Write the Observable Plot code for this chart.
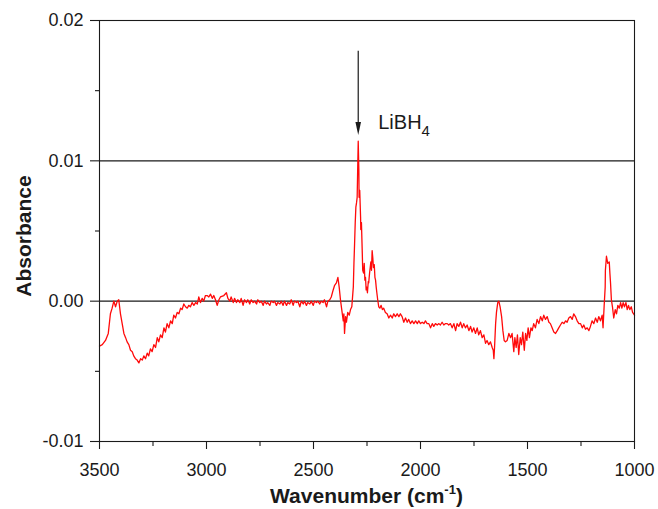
<!DOCTYPE html>
<html>
<head>
<meta charset="utf-8">
<script src="https://cdn.jsdelivr.net/npm/d3@7"></script>
<script src="https://cdn.jsdelivr.net/npm/@observablehq/plot@0.6"></script>
<style>
  html, body { margin: 0; padding: 0; background: #fff; }
  #chart { width: 658px; height: 509px; }
</style>
</head>
<body>
<div id="chart"></div>
<script>
// IR difference spectrum: [wavenumber (cm-1), absorbance]
const ohRegion = [
  [3500,-0.0032],[3487,-0.0031],[3472,-0.0028],[3459,-0.0023],[3449,-0.0009],[3441,-0.0005],
  [3433,0],[3425,-0.0004],[3417,0],[3410,0.0001],[3402,-0.0009],[3394,-0.0016],[3386,-0.0023],
  [3378,-0.0026],[3371,-0.0029],[3363,-0.0031],[3355,-0.0035],[3347,-0.0036],[3340,-0.0039],
  [3332,-0.0041],[3324,-0.0042],[3316,-0.0044],[3308,-0.0041],[3300,-0.0042],[3293,-0.0039],
  [3285,-0.0041],[3277,-0.0037],[3270,-0.0039],[3262,-0.0034],[3254,-0.0036],[3246,-0.0031],
  [3238,-0.0033],[3230,-0.0026],[3223,-0.0029],[3215,-0.0024],[3207,-0.0026],[3199,-0.0019],
  [3192,-0.0022],[3184,-0.0016],[3176,-0.0019],[3168,-0.0014],[3160,-0.0016],[3153,-0.0010],
  [3145,-0.0012],[3137,-0.0008],[3129,-0.0009],[3121,-0.0005],[3114,-0.0006],[3106,-0.0002],
  [3098,-0.0004],[3090,-0.0005],[3083,-0.0003],[3075,-0.0004],[3067,-0.0001],[3059,-0.0003],
  [3051,-0.0001],[3043,-0.0002],[3036,0.0003],[3028,-0.0001],[3020,0.0002],[3013,0],
  [3005,0.0004],[2997,0.0004],[2989,0.0003],[2981,0.0005],[2973,0.0002],[2966,0.0004],
  [2958,0.0001],[2950,-0.0003],[2942,0.0001],[2935,0.0003]
];
const flatRegion = [
  [2919,0.0004],[2907,0.0006],[2900,0.0002],[2891,0],[2885,0.0003],[2875,-0.0001],[2869,0.0002],
  [2860,-0.0001],[2854,0.0001],[2844,-0.0001],[2838,0.0002],[2829,-0.0003],[2822,0.0001],
  [2813,-0.0001],[2807,0.0001],[2798,-0.0002],[2791,0.0001],[2782,-0.0001],[2776,0],
  [2766,-0.0002],[2760,0.0001],[2751,-0.0001],[2744,0],[2735,-0.0003],[2729,0],[2720,-0.0002],
  [2714,-0.0001],[2704,-0.0003],[2698,0],[2688,-0.0001],[2682,0],[2673,-0.0003],[2667,-0.0001],
  [2657,-0.0002],[2651,0],[2642,-0.0003],[2636,0],[2626,-0.0003],[2620,-0.0001],[2611,-0.0002],
  [2604,0.0001],[2595,-0.0003],[2589,0],[2579,-0.0001],[2573,0],[2564,-0.0004],[2557,0],
  [2548,-0.0002],[2542,0],[2533,-0.0003],[2527,-0.0001],[2517,-0.0002],[2511,0],[2501,-0.0003],
  [2495,0],[2486,-0.0001],[2480,0],[2471,-0.0002],[2464,0],[2455,-0.0001],[2449,0.0001],
  [2439,-0.0004],[2433,0],[2424,0.0001],[2417,0.0003],[2408,0.0008],[2402,0.0011]
];
const bhRegion = [
  [2393,0.0013],[2386,0.0017],[2380,0.0010],[2374,0.0001],[2368,-0.0006],[2361,-0.0014],
  [2358,-0.0009],[2355,-0.0023],[2350,-0.0011],[2346,-0.0015],[2340,-0.0008],[2333,-0.0010],
  [2327,-0.0006],[2321,-0.0004],[2318,0.0002],[2314,0.0010],[2311,0.0027],[2308,0.0041],
  [2305,0.0056],[2302,0.0067],[2299,0.0070],[2296,0.0074],[2293,0.0098],[2291,0.0114],
  [2288,0.0093],[2287,0.0074],[2284,0.0079],[2280,0.0060],[2279,0.0051],[2276,0.0056],
  [2272,0.0034],[2270,0.0022],[2266,0.0020],[2263,0.0027],[2260,0.0015],[2257,0.0017],
  [2254,0.0008],[2251,0.0010],[2248,0.0006],[2244,0.0014],[2242,0.0013],[2238,0.0020],
  [2235,0.0024],[2232,0.0028],[2229,0.0022],[2226,0.0036],[2223,0.0031],[2220,0.0024],
  [2216,0.0026],[2213,0.0017],[2210,0.0015],[2207,0.0010],[2204,0.0006],[2200,0.0001],
  [2195,-0.0004],[2190,-0.0005],[2184,-0.0003],[2178,-0.0006],[2172,-0.0005],[2164,-0.0008],
  [2156,-0.0009],[2148,-0.0012],[2140,-0.0010]
];
const midRegion = [
  [2132,-0.0012],[2125,-0.0009],[2117,-0.0011],[2109,-0.0009],[2101,-0.0011],[2094,-0.0009],
  [2086,-0.0011],[2078,-0.0015],[2070,-0.0012],[2062,-0.0015],[2055,-0.0013],[2047,-0.0016],
  [2039,-0.0014],[2031,-0.0016],[2023,-0.0014],[2015,-0.0016],[2008,-0.0014],[2000,-0.0016],
  [1992,-0.0015],[1984,-0.0016],[1977,-0.0014],[1969,-0.0016],[1961,-0.0016],[1953,-0.0019],
  [1945,-0.0016],[1938,-0.0018],[1930,-0.0016],[1922,-0.0017],[1914,-0.0016],[1907,-0.0017],
  [1899,-0.0015],[1891,-0.0017],[1883,-0.0016],[1875,-0.0016],[1868,-0.0017],[1860,-0.0016],
  [1852,-0.0019],[1844,-0.0016],[1836,-0.0021],[1829,-0.0016],[1821,-0.0018],[1813,-0.0015],
  [1805,-0.0019],[1798,-0.0016],[1790,-0.0019],[1782,-0.0017],[1774,-0.0021],[1766,-0.0018],
  [1759,-0.0022],[1751,-0.0019],[1743,-0.0023],[1735,-0.0019],[1728,-0.0024],[1720,-0.0021],
  [1712,-0.0026],[1704,-0.0024],[1696,-0.0030],[1689,-0.0028],[1681,-0.0031],[1673,-0.0029],
  [1665,-0.0033],[1660,-0.0035],[1657,-0.0041],[1654,-0.0033],[1649,-0.0016],[1645,-0.0008],
  [1639,-0.0001],[1634,0],[1628,-0.0004],[1621,-0.0011],[1615,-0.0021]
];
const lowRegion = [
  [1609,-0.0028],[1603,-0.0029],[1595,-0.0028],[1587,-0.0023],[1579,-0.0026],[1572,-0.0023],
  [1564,-0.0036],[1559,-0.0026],[1553,-0.0033],[1547,-0.0024],[1541,-0.0038],[1534,-0.0026],
  [1528,-0.0031],[1522,-0.0022],[1515,-0.0035],[1509,-0.0023],[1503,-0.0028],[1497,-0.0019],
  [1491,-0.0026],[1484,-0.0019],[1478,-0.0021],[1471,-0.0016],[1463,-0.0019],[1455,-0.0013],
  [1447,-0.0016],[1439,-0.0011],[1431,-0.0014],[1424,-0.0010],[1416,-0.0013],[1408,-0.0011],
  [1400,-0.0015],[1393,-0.0016],[1385,-0.0019],[1377,-0.0022],[1369,-0.0023],[1361,-0.0021],
  [1354,-0.0019],[1346,-0.0017],[1338,-0.0015],[1330,-0.0016],[1322,-0.0014],[1315,-0.0015],
  [1307,-0.0012],[1299,-0.0011],[1291,-0.0013],[1284,-0.0009],[1276,-0.0011],[1268,-0.0014],
  [1260,-0.0016],[1252,-0.0016],[1244,-0.0019],[1237,-0.0017],[1229,-0.0020],[1221,-0.0019],
  [1213,-0.0021],[1206,-0.0018],[1198,-0.0014],[1190,-0.0016],[1182,-0.0012],[1174,-0.0015],
  [1167,-0.0011],[1159,-0.0014],[1151,-0.0010],[1147,-0.0019],[1142,-0.0004],[1137,0.0010],
  [1136,0.0022],[1131,0.0032],[1125,0.0027],[1118,0.0028],[1115,0.0020],[1112,0.0013],
  [1108,0.0001],[1103,-0.0004],[1097,-0.0012],[1090,-0.0006],[1084,-0.0009],[1078,-0.0003],
  [1071,-0.0005],[1065,-0.0001],[1059,-0.0005],[1053,-0.0001],[1047,-0.0004],[1040,-0.0001],
  [1034,-0.0006],[1028,-0.0003],[1022,-0.0006],[1015,-0.0004],[1009,-0.0008],[1000,-0.0010]
];
const spectrum = [...ohRegion, ...flatRegion, ...bhRegion, ...midRegion, ...lowRegion];

// axis ticks
const xTicks = [3500, 3000, 2500, 2000, 1500, 1000];
const xMinorTicks = [3250, 2750, 2250, 1750, 1250];
const yTicks = [-0.01, 0, 0.01, 0.02];
const yTickLabels = ["-0.01", "0.00", "0.01", "0.02"];
const yMinorTicks = [-0.005, 0.005, 0.015];
const refLines = [0, 0.01];

// annotated band: the B–H stretch peak of LiBH4
const peak = [{wavenumber: 2291, arrowTop: 0.0178, arrowTip: 0.01184, labelY: 0.0123, label: "LiBH", sub: "4"}];

const ink = "#1a1a1a";
// filled, narrow arrowhead whose tip sits on the anchor point
const arrowHead = {
  draw(ctx) {
    ctx.moveTo(0, 0);
    ctx.lineTo(-2.8, -13);
    ctx.lineTo(2.8, -13);
    ctx.closePath();
  }
};

const W = 658, H = 509, mL = 99, mR = 24, mT = 20, mB = 68;

const chart = Plot.plot({
  width: W,
  height: H,
  marginLeft: mL,
  marginRight: mR,
  marginTop: mT,
  marginBottom: mB,
  style: {fontFamily: "'Liberation Sans', Arial, Helvetica, sans-serif", fontSize: "18px", color: ink, background: "#fff"},
  x: {domain: [3500, 1000]},
  y: {domain: [-0.01, 0.02]},
  marks: [
    Plot.ruleY(refLines, {stroke: ink, strokeWidth: 1.1}),
    Plot.line(spectrum, {x: d => d[0], y: d => d[1], stroke: "#ff0a0a", strokeWidth: 1.3, strokeLinejoin: "round"}),
    Plot.frame({stroke: ink, strokeWidth: 1.1}),
    Plot.axisX({ticks: xTicks, tickSize: 8, tickPadding: 14, tickFormat: d => String(d), fontSize: 18, label: null, stroke: ink, strokeWidth: 1.1}),
    Plot.axisX({ticks: xMinorTicks, tickSize: 5, tickFormat: () => "", label: null, stroke: ink, strokeWidth: 1.1}),
    Plot.axisY({ticks: yTicks, tickSize: 9, tickPadding: 7, tickFormat: d => yTickLabels[yTicks.indexOf(d)], fontSize: 18, label: null, stroke: ink, strokeWidth: 1.1}),
    Plot.axisY({ticks: yMinorTicks, tickSize: 4, tickFormat: () => "", label: null, stroke: ink, strokeWidth: 1.1}),
    Plot.text(["Absorbance"], {frameAnchor: "left", textAnchor: "middle", dx: -75, dy: 5, rotate: -90, fontWeight: "bold", fontSize: 21, fill: ink}),
    // annotation arrow and label
    Plot.ruleX(peak, {x: "wavenumber", y1: d => d.arrowTip + 0.0006, y2: "arrowTop", stroke: ink, strokeWidth: 1.2}),
    Plot.dot(peak, {x: "wavenumber", y: "arrowTip", symbol: arrowHead, fill: ink, stroke: "none"}),
    Plot.text(peak, {x: "wavenumber", y: "labelY", text: "label", dx: 20, textAnchor: "start", lineAnchor: "bottom", fontSize: 20, fill: ink})
  ]
});

const svg = d3.select(chart);

// subscript on the compound label
svg.selectAll("text")
  .filter(function() { return this.textContent === peak[0].label; })
  .append("tspan")
  .attr("font-size", 15)
  .attr("dy", 7)
  .text(peak[0].sub);

// x-axis title with superscript
const title = svg.append("text")
  .attr("x", (mL + W - mR) / 2)
  .attr("y", 503)
  .attr("text-anchor", "middle")
  .attr("font-weight", "bold")
  .attr("font-size", 21)
  .attr("fill", ink);
title.append("tspan").text("Wavenumber (cm");
title.append("tspan").attr("font-size", 13).attr("dy", -9).text("-1");
title.append("tspan").attr("dy", 9).text(")");

document.getElementById("chart").appendChild(chart);
</script>
</body>
</html>
